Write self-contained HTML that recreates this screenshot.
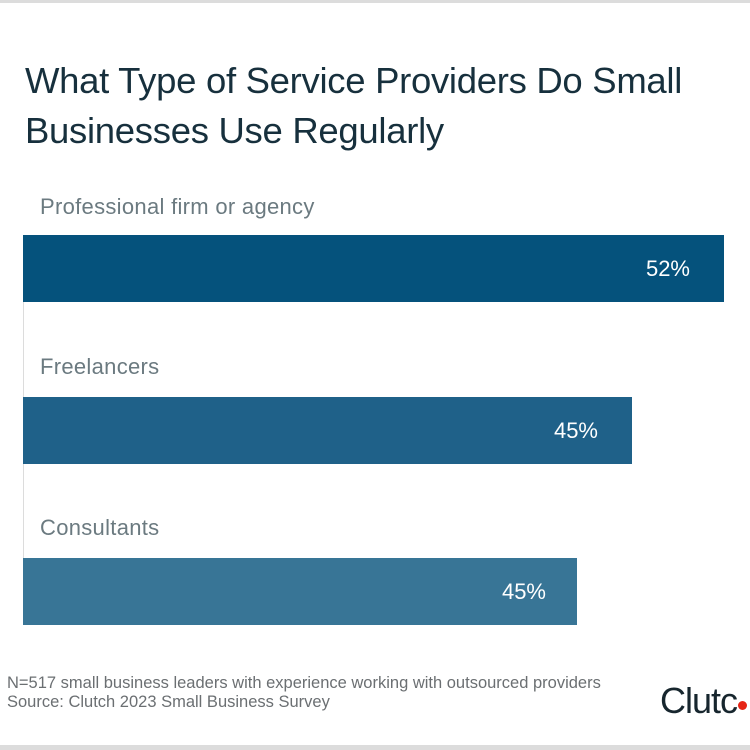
<!DOCTYPE html>
<html><head><style>
body{margin:0;width:750px;height:750px;background:#fff;position:relative;overflow:hidden;font-family:"Liberation Sans",sans-serif}
.a{position:absolute;white-space:nowrap}
.t{left:25px;top:56px;font-size:36.5px;line-height:50px;color:#17303d;letter-spacing:-0.3px}
.l{left:40px;font-size:22px;color:#6b7a80;letter-spacing:0.3px}
.b{left:23px;height:67px}
.v{font-size:22px;color:#fff;text-align:right}
.f{left:7px;font-size:16.5px;color:#6b6f72;line-height:19px}
</style></head><body>
<div class="a" style="left:0;top:0;width:750px;height:3px;background:#dcdcdc"></div>
<div class="a" style="left:0;top:745px;width:750px;height:5px;background:#dcdcdc"></div>
<div class="a t">What Type of Service Providers Do Small<br>Businesses Use Regularly</div>
<div class="a" style="left:23px;top:300px;width:1px;height:325px;background:#dcdcdc"></div>
<div class="a l" style="top:194px">Professional firm or agency</div>
<div class="a b" style="top:235px;width:701px;background:#05527c"></div>
<div class="a v" style="left:600px;width:90px;top:256px">52%</div>
<div class="a l" style="top:354px">Freelancers</div>
<div class="a b" style="top:397px;width:609px;background:#1f6189"></div>
<div class="a v" style="left:508px;width:90px;top:418px">45%</div>
<div class="a l" style="top:515px">Consultants</div>
<div class="a b" style="top:558px;width:554px;background:#387596"></div>
<div class="a v" style="left:456px;width:90px;top:579px">45%</div>
<div class="a f" style="top:674px">N=517 small business leaders with experience working with outsourced providers<br>Source: Clutch 2023 Small Business Survey</div>
<div class="a" style="left:660px;top:680px;font-size:36px;color:#17262e;letter-spacing:-1px">Clutc</div>
<div class="a" style="left:738px;top:701px;width:9px;height:9px;border-radius:50%;background:#e62415"></div>
</body></html>
